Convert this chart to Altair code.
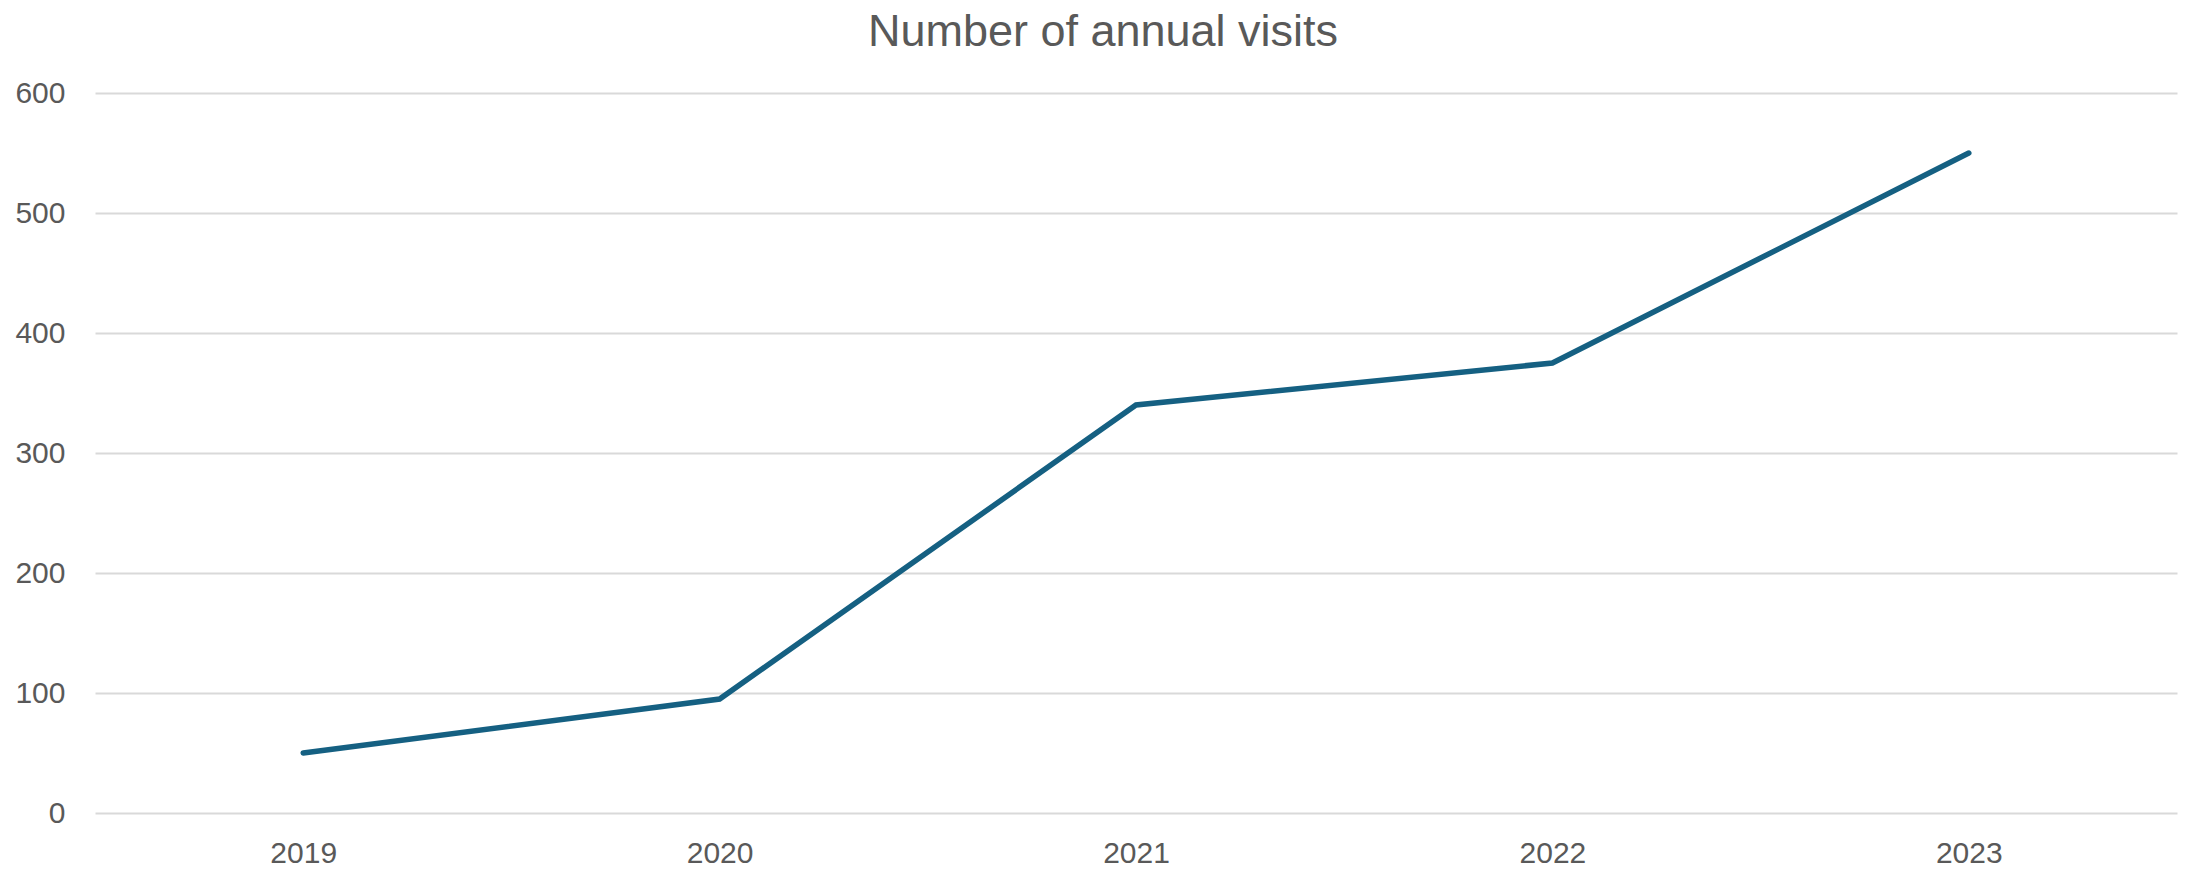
import altair as alt
import pandas as pd

years = ["2019", "2020", "2021", "2022", "2023"]
visits = [50, 95, 340, 375, 550]
y_ticks = [0, 100, 200, 300, 400, 500, 600]
title_text = ["Number of annual visits"]

df = pd.DataFrame({"year": years, "visits": visits})
tdf = pd.DataFrame({"t": title_text})

label_color = "#595959"
font = "Liberation Sans"

line = (
    alt.Chart(df)
    .mark_line(color="#156082", strokeWidth=5.5, strokeCap="round", strokeJoin="miter")
    .encode(
        x=alt.X(
            "year:O",
            sort=years,
            scale=alt.Scale(type="point", padding=0.5),
            axis=alt.Axis(
                title=None,
                labelAngle=0,
                domain=False,
                ticks=False,
                grid=False,
                labelFontSize=30,
                labelColor=label_color,
                labelFont=font,
                labelBaseline="middle",
                labelPadding=40,
            ),
        ),
        y=alt.Y(
            "visits:Q",
            scale=alt.Scale(domain=[0, 600], nice=False, zero=True),
            axis=alt.Axis(
                title=None,
                values=y_ticks,
                domain=False,
                ticks=False,
                grid=True,
                gridColor="#D9D9D9",
                gridWidth=2,
                labelFontSize=30,
                labelColor=label_color,
                labelFont=font,
                labelPadding=30,
                labelBaseline="middle",
            ),
        ),
    )
)

title = (
    alt.Chart(tdf)
    .mark_text(
        font=font,
        fontSize=45,
        color=label_color,
        align="center",
        baseline="alphabetic",
    )
    .encode(text="t:N", x=alt.value(1008), y=alt.value(-47))
)

chart = (
    alt.layer(line, title)
    .properties(
        width=2082,
        height=720,
        padding={"left": 87, "top": 85, "right": 3, "bottom": 55},
        autosize=alt.AutoSizeParams(type="none"),
        view=alt.ViewBackground(stroke="transparent", strokeWidth=0),
    )
    .configure_view(stroke="transparent", strokeWidth=0)
    .configure(background="white", style={"cell": {"stroke": "transparent", "strokeWidth": 0}})
)

chart.save("out.html", embed_options={"renderer": "svg", "actions": False})
